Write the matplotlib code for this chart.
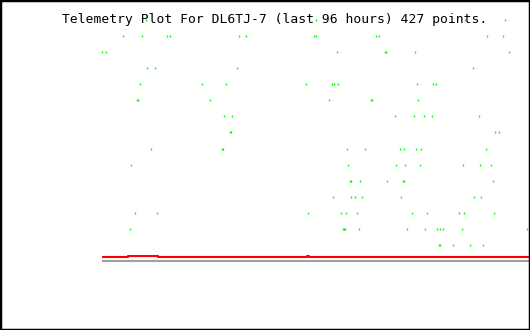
import matplotlib
matplotlib.use("Agg")
import matplotlib.pyplot as plt
from matplotlib.patches import Rectangle

# Telemetry samples: hours since start of the 96 h window, grouped by level
level_hours = {
    15: [9.9, 39.3, 48.1, 81.6, 90.6],
    14: [4.7, 9.0, 14.6, 15.3, 30.8, 32.4, 47.7, 48.1, 61.6, 62.3, 86.6, 90.2],
    13: [0.0, 0.9, 52.8, 63.6, 63.8, 70.4, 91.5],
    12: [10.1, 11.9, 30.4, 83.4],
    11: [8.5, 22.5, 27.9, 45.9, 51.7, 52.2, 53.1, 70.8, 74.4, 75.1],
    10: [7.9, 8.1, 24.3, 51.0, 60.5, 60.7, 71.0],
    9: [27.4, 29.2, 65.9, 70.1, 72.4, 74.2, 84.8],
    8: [28.8, 29.0, 88.4, 89.3],
    7: [11.0, 27.0, 27.2, 55.1, 59.1, 67.0, 67.9, 70.6, 71.7, 86.3],
    6: [6.5, 55.3, 66.1, 68.1, 71.5, 81.2, 85.0, 87.5],
    5: [55.8, 56.0, 58.0, 64.1, 67.7, 67.9, 87.9],
    4: [51.9, 56.0, 56.9, 58.5, 67.2, 83.6, 85.2],
    3: [7.4, 12.4, 46.3, 53.7, 54.9, 57.3, 69.7, 73.1, 80.3, 81.4, 88.1],
    2: [6.3, 54.2, 54.4, 54.6, 57.8, 68.6, 72.6, 75.3, 76.0, 76.7, 80.9, 95.5],
    1: [75.8, 76.0, 78.9, 82.7, 85.7],
}

red_hours = [0.0, 5.8, 12.6, 46.1, 46.6, 96.0]
red_values = [0.28, 0.34, 0.28, 0.34, 0.28, 0.28]

gray_hours = [0.0, 96.0]
gray_values = [0.0, 0.0]

title = "Telemetry Plot For DL6TJ-7 (last 96 hours) 427 points."

W, H = 530, 330
fig = plt.figure(figsize=(W / 100, H / 100), dpi=100)
fig.patch.set_facecolor("white")

ax = fig.add_axes([102 / W, 69 / H, 427 / W, 241 / H])
ax.set_xlim(0, 96)
ax.set_ylim(0, 15)
ax.axis("off")

ax.plot(gray_hours, gray_values, color="#a0a0a0", lw=1.5, clip_on=False,
        solid_capstyle="butt")
ax.plot(red_hours, red_values, color="#ff0000", lw=1.5, drawstyle="steps-post",
        clip_on=False, solid_capstyle="butt")

xs, ys = [], []
for lvl, hrs in level_hours.items():
    for h in hrs:
        xs.append(h)
        ys.append(lvl)
ax.plot(xs, ys, linestyle="none", marker="|", markersize=1.5, mew=1.0,
        color="#00ff00", clip_on=False, antialiased=False)

fig.text(275 / W, 1 - 23 / H, title, ha="center", va="baseline",
         family="DejaVu Sans Mono", fontsize=9.4, color="black")

fig.patches.append(Rectangle((0, 0), 1, 1, transform=fig.transFigure,
                             fill=False, edgecolor="black", lw=2.5))

fig.savefig("out.png", dpi=100)
